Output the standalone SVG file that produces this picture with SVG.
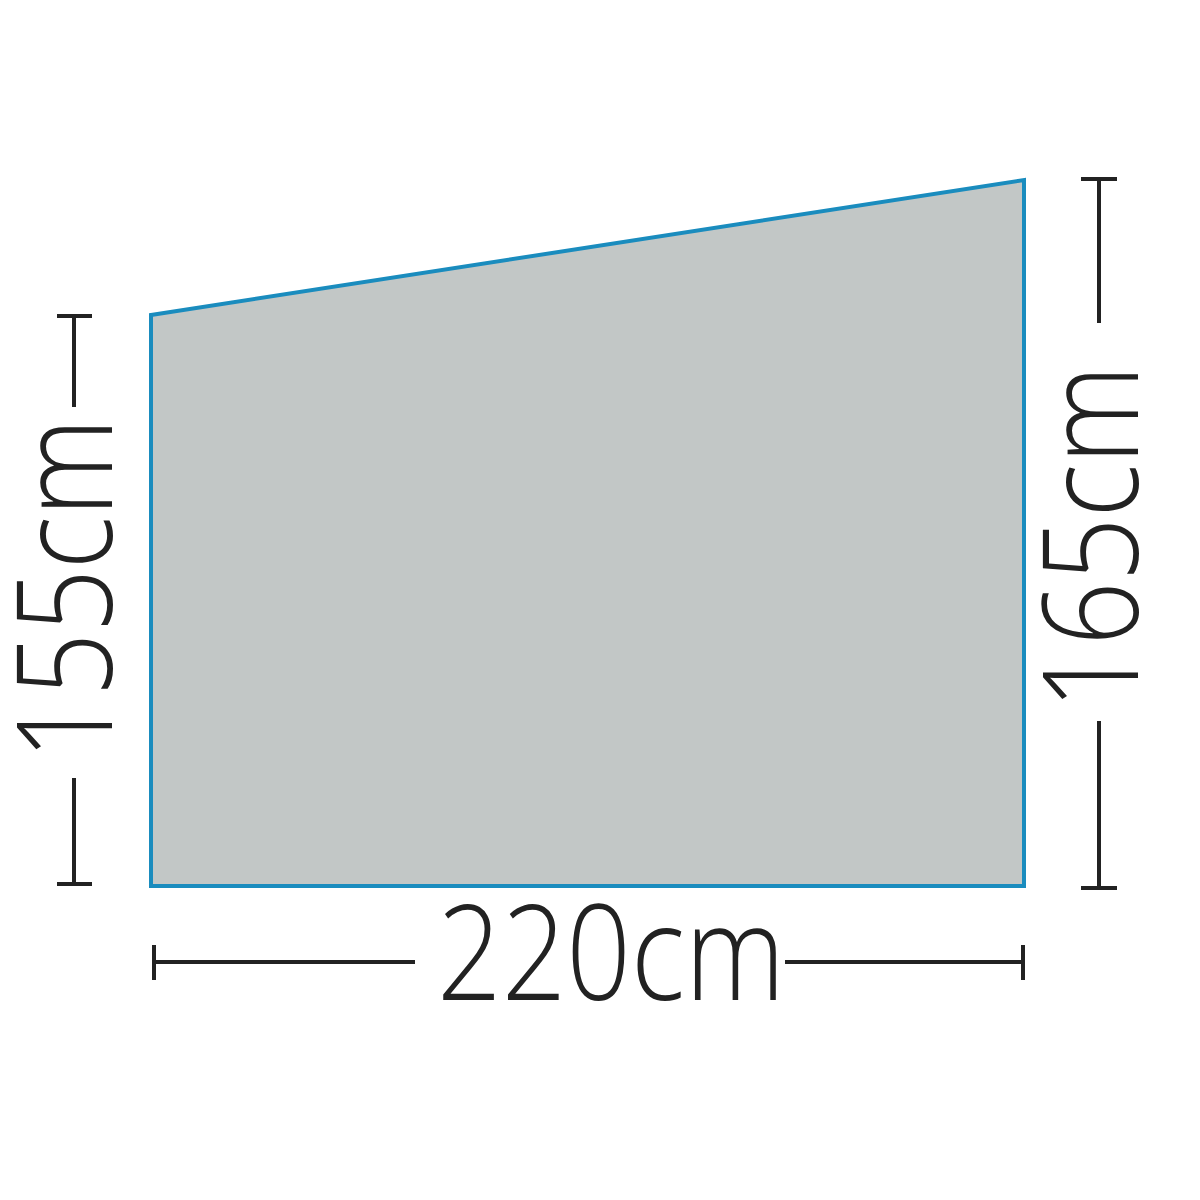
<svg xmlns="http://www.w3.org/2000/svg" width="1200" height="1200" viewBox="0 0 1200 1200">
<style>
.dim{stroke:#222;stroke-width:4;fill:none}
.lbl{font-family:"Open Sans",Roboto,sans-serif;font-weight:300;font-size:132px;fill:#222}
</style>
<rect width="1200" height="1200" fill="#fff"/>
<g id="panel">
<polygon points="151,315 1024,180 1024,886 151,886" fill="#c2c7c6" stroke="#1a8cbe" stroke-width="4" stroke-linejoin="miter"/>
</g>
<g id="dim-left">
<path class="dim" d="M57,316H92M74,316V407M74,778V884M57,884H92"/>
<text class="lbl" transform="translate(112,760) rotate(-90)" textLength="342" lengthAdjust="spacingAndGlyphs">155cm</text>
</g>
<g id="dim-right">
<path class="dim" d="M1081,179H1117M1099,179V323M1099,721V888M1081,888H1117"/>
<text class="lbl" transform="translate(1138,710) rotate(-90)" textLength="345" lengthAdjust="spacingAndGlyphs">165cm</text>
</g>
<g id="dim-bottom">
<path class="dim" d="M154,945V980M154,962H415M785,962H1023M1023,945V980"/>
<text class="lbl" x="437" y="1000" textLength="348" lengthAdjust="spacingAndGlyphs">220cm</text>
</g>
</svg>
